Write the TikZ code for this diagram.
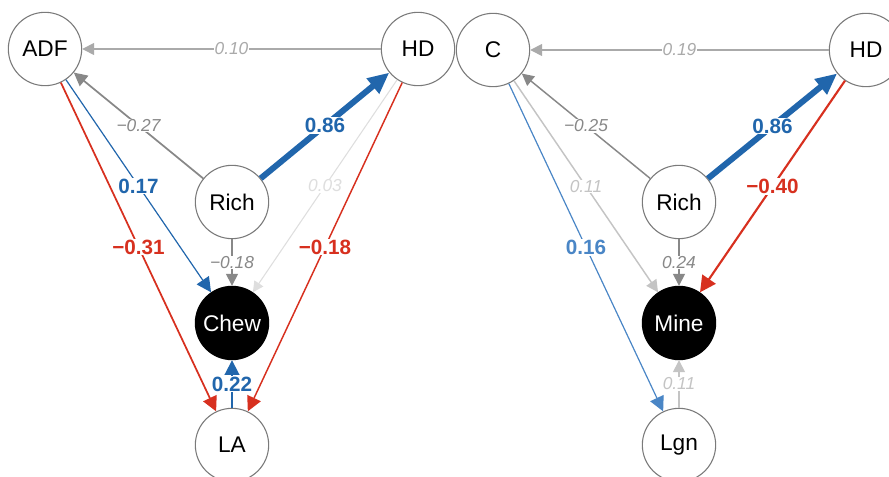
\documentclass[tikz,border=0pt]{standalone}
\usepackage{fontspec}
\setmainfont{Liberation Sans}
\usetikzlibrary{arrows.meta}
\definecolor{eblue}{HTML}{2166AC}
\definecolor{lblue}{HTML}{4A86C6}
\definecolor{ered}{HTML}{D7301F}
\definecolor{ga}{HTML}{888888}
\definecolor{gb}{HTML}{AAAAAA}
\definecolor{gc}{HTML}{C4C4C4}
\definecolor{gd}{HTML}{DEDEDE}
\definecolor{nborder}{HTML}{7A7A7A}
\begin{document}
\begin{tikzpicture}[x=0.75pt,y=-0.75pt,
  var/.style={circle,draw=nborder,line width=0.8pt,fill=white,minimum size=55pt,inner sep=0pt,font=\fontsize{17}{20}\selectfont},
  outc/.style={circle,draw=black,fill=black,line width=0.8pt,minimum size=55pt,inner sep=0pt,text=white,font=\fontsize{17}{20}\selectfont},
  bl/.style={fill=white,inner sep=0.6pt,font=\fontsize{15.5}{18}\selectfont\bfseries},
  il/.style={fill=white,inner sep=0.6pt,font=\fontsize{13}{15}\selectfont\itshape},
  arr/.style={-{Triangle[length=#1,width=#1]}},
]
\useasboundingbox (0,0) rectangle (889,477);
\clip (0,0) rectangle (889,477);

% left panel nodes
\node[var]  (ADF)   at (45,49)   {ADF};
\node[var]  (HDa)   at (418,49)  {HD};
\node[var]  (Richa) at (232,202) {Rich};
\node[outc] (Chew)  at (232,323) {Chew};
\node[var]  (LA)    at (232,445) {LA};

% right panel nodes
\node[var]  (C)     at (493,50)  {C};
\node[var]  (HDb)   at (866,50)  {HD};
\node[var]  (Richb) at (679,202) {Rich};
\node[outc] (Mine)  at (679,323) {Mine};
\node[var]  (Lgn)   at (679,445) {Lgn};

% left panel edges
\draw[gd, line width=0.8pt, arr=8pt] (HDa) -- node[il,text=gd]{0.03} (Chew);
\draw[gb, line width=1.1pt, arr=9pt] (HDa) -- node[il,text=gb]{0.10} (ADF);
\draw[ga, line width=1.3pt, arr=10pt] (Richa) -- node[il,text=ga]{−0.27} (ADF);
\draw[ga, line width=1.1pt, arr=9pt] (Richa) -- node[il,text=ga]{−0.18} (Chew);
\draw[eblue, line width=0.9pt, arr=11pt] (ADF) -- node[bl,text=eblue]{0.17} (Chew);
\draw[ered, line width=1.3pt, arr=11pt] (ADF) -- node[bl,text=ered]{−0.31} (LA);
\draw[ered, line width=1.1pt, arr=11pt] (HDa) -- node[bl,text=ered]{−0.18} (LA);
\draw[eblue, line width=1.4pt, arr=11pt] (LA) -- node[bl,text=eblue]{0.22} (Chew);
\draw[eblue, line width=4.5pt, -{Triangle[length=16pt,width=14pt]}] (Richa) -- node[bl,text=eblue]{0.86} (HDa);

% right panel edges
\draw[gc, line width=1.1pt, arr=9pt] (C) -- node[il,text=gc]{0.11} (Mine);
\draw[gb, line width=1.1pt, arr=9pt] (HDb) -- node[il,text=gb]{0.19} (C);
\draw[ga, line width=1.1pt, arr=9pt] (Richb) -- node[il,text=ga]{−0.25} (C);
\draw[ga, line width=1.1pt, arr=9pt] (Richb) -- node[il,text=ga]{0.24} (Mine);
\draw[gc, line width=1.1pt, arr=9pt] (Lgn) -- node[il,text=gc]{0.11} (Mine);
\draw[lblue, line width=0.9pt, arr=11pt] (C) -- node[bl,text=lblue]{0.16} (Lgn);
\draw[ered, line width=1.6pt, arr=12pt] (HDb) -- node[bl,text=ered]{−0.40} (Mine);
\draw[eblue, line width=4.5pt, -{Triangle[length=16pt,width=14pt]}] (Richb) -- node[bl,text=eblue]{0.86} (HDb);
\end{tikzpicture}
\end{document}
